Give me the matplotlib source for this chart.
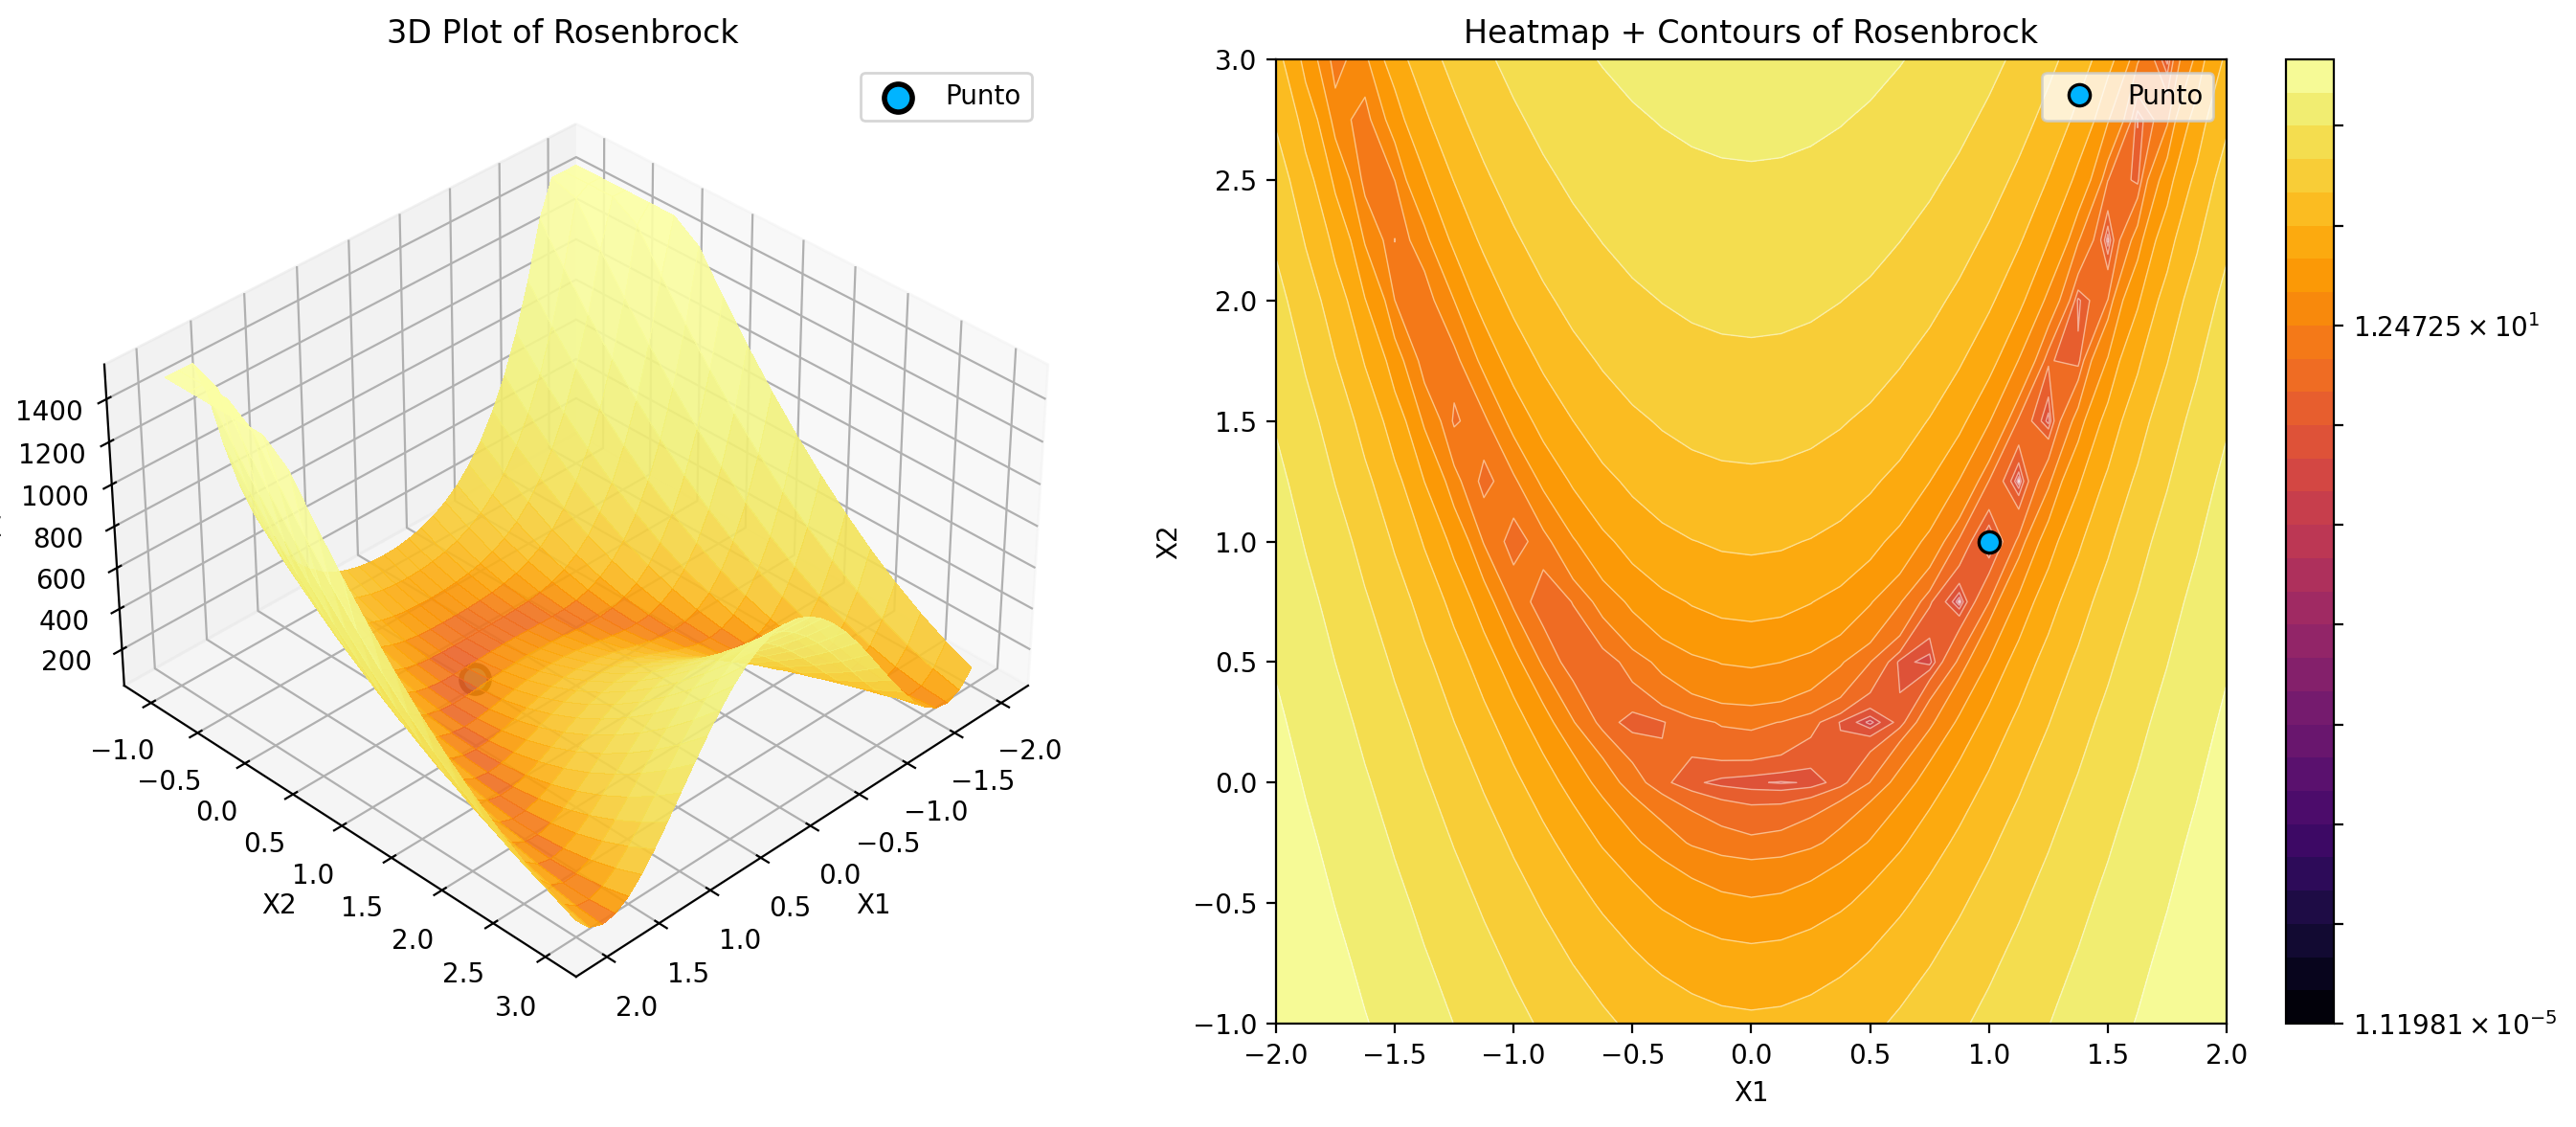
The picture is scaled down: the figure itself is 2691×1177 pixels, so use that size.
import numpy as np
import matplotlib
matplotlib.use('Agg')
import matplotlib.pyplot as plt
from matplotlib.colors import LogNorm
from mpl_toolkits.mplot3d import Axes3D  # noqa

# Axis samples
x1_values = [-2, -1.875, -1.75, -1.625, -1.5, -1.375, -1.25, -1.125, -1, -0.875, -0.75, -0.625, -0.5,
             -0.375, -0.25, -0.125, 0, 0.125, 0.25, 0.375, 0.5, 0.625, 0.75, 0.875, 1, 1.125, 1.25,
             1.375, 1.5, 1.625, 1.75, 1.875, 2]
x2_values = [-1, -0.75, -0.5, -0.25, 0, 0.25, 0.5, 0.75, 1, 1.25, 1.5, 1.75, 2, 2.25, 2.5, 2.75, 3]

# Surface heights, one row per x1 value, one column per x2 value
z_table = [
    [2509, 2265.25, 2034, 1815.25, 1609, 1415.25, 1234, 1065.25, 909, 765.25, 634, 515.25, 409, 315.25, 234, 165.25, 109],
    [2047.4, 1827.9, 1620.8, 1426.3, 1244.3, 1074.7, 917.7, 773.2, 641.1, 521.6, 414.6, 320.0, 238.0, 168.5, 111.4, 66.9, 34.9],
    [1658.0, 1461.1, 1276.7, 1104.9, 945.5, 798.6, 664.2, 542.4, 433.0, 336.1, 251.7, 179.9, 120.5, 73.6, 39.2, 17.4, 8.0],
    [1332.3, 1156.5, 993.2, 842.5, 704.2, 578.4, 465.1, 364.3, 276.1, 200.3, 137.0, 86.2, 47.9, 22.2, 8.9, 8.1, 19.8],
    [1062.5, 906.25, 762.5, 631.25, 512.5, 406.25, 312.5, 231.25, 162.5, 106.25, 62.5, 31.25, 12.5, 6.25, 12.5, 31.25, 62.5],
    [841.2, 702.9, 577.1, 463.8, 363.0, 274.8, 199.0, 135.7, 84.9, 46.6, 20.9, 7.6, 6.8, 18.5, 42.7, 79.5, 128.7],
    [661.7, 539.9, 430.5, 333.6, 249.2, 177.4, 118.0, 71.1, 36.7, 14.9, 5.5, 8.6, 24.2, 52.4, 93.0, 146.1, 211.7],
    [517.8, 410.8, 316.2, 234.2, 164.7, 107.6, 63.1, 31.1, 11.6, 4.5, 10.0, 28.0, 58.4, 101.4, 156.9, 224.8, 305.3],
    [404, 310.25, 229, 160.25, 104, 60.25, 29, 10.25, 4, 10.25, 29, 60.25, 104, 160.25, 229, 310.25, 404],
    [315.2, 233.2, 163.7, 106.6, 62.1, 30.1, 10.6, 3.5, 9.0, 27.0, 57.4, 100.4, 155.9, 223.8, 304.3, 397.3, 502.7],
    [247.2, 175.4, 116.0, 69.1, 34.7, 12.9, 3.5, 6.6, 22.2, 50.4, 91.0, 144.1, 209.7, 287.9, 378.5, 481.6, 597.2],
    [196.0, 132.7, 81.9, 43.6, 17.9, 4.6, 3.8, 15.5, 39.7, 76.5, 125.7, 187.4, 261.6, 348.3, 447.5, 559.3, 683.5],
    [158.5, 102.25, 58.5, 27.25, 8.5, 2.25, 8.5, 27.25, 58.5, 102.25, 158.5, 227.25, 308.5, 402.25, 508.5, 627.25, 758.5],
    [132.0, 81.2, 42.9, 17.2, 3.9, 3.1, 14.8, 39.0, 75.8, 125.0, 186.7, 260.9, 347.6, 446.8, 558.6, 682.8, 819.5],
    [114.5, 67.6, 33.2, 11.4, 2.0, 5.1, 20.7, 48.9, 89.5, 142.6, 208.2, 286.4, 377.0, 480.1, 595.7, 723.9, 864.5],
    [104.4, 59.9, 27.9, 8.4, 1.3, 6.8, 24.8, 55.2, 98.2, 153.7, 221.6, 302.1, 395.1, 500.5, 618.5, 749.0, 892.0],
    [101, 57.25, 26, 7.25, 1, 7.25, 26, 57.25, 101, 157.25, 226, 307.25, 401, 507.25, 626, 757.25, 901],
    [103.9, 59.4, 27.4, 7.9, 0.79, 6.3, 24.3, 54.7, 97.7, 153.2, 221.1, 301.6, 394.6, 500.0, 618.0, 748.5, 891.5],
    [113.5, 66.6, 32.2, 10.4, 0.96, 4.1, 19.7, 47.9, 88.5, 141.6, 207.2, 285.4, 376.0, 479.1, 594.7, 722.9, 863.5],
    [130.5, 79.7, 41.4, 15.7, 2.4, 1.6, 13.3, 37.5, 74.3, 123.5, 185.2, 259.4, 346.1, 445.3, 557.1, 681.3, 818.0],
    [156.5, 100.25, 56.5, 25.25, 6.5, 0.25, 6.5, 25.25, 56.5, 100.25, 156.5, 225.25, 306.5, 400.25, 506.5, 625.25, 756.5],
    [193.5, 130.2, 79.4, 41.1, 15.4, 2.1, 1.3, 13.0, 37.2, 74.0, 123.2, 184.9, 259.1, 345.8, 445.0, 556.8, 681.0],
    [244.2, 172.4, 113.0, 66.1, 31.7, 9.9, 0.46, 3.6, 19.2, 47.4, 88.0, 141.1, 206.7, 284.9, 375.5, 478.6, 594.2],
    [311.7, 229.7, 160.2, 103.1, 58.6, 26.6, 7.1, 0.04, 5.5, 23.5, 53.9, 96.9, 152.4, 220.3, 300.8, 393.8, 499.2],
    [400, 306.25, 225, 156.25, 100, 56.25, 25, 6.25, 1.11981e-5, 6.25, 25, 56.25, 100, 156.25, 225, 306.25, 400],
    [513.3, 406.3, 311.7, 229.7, 160.2, 103.1, 58.6, 26.6, 7.1, 0.04, 5.5, 23.5, 53.9, 96.9, 152.4, 220.3, 300.8],
    [656.7, 534.9, 425.5, 328.6, 244.2, 172.4, 113.0, 66.1, 31.7, 9.9, 0.46, 3.6, 19.2, 47.4, 88.0, 141.1, 206.7],
    [835.7, 697.4, 571.6, 458.3, 357.5, 269.3, 193.5, 130.2, 79.4, 41.1, 15.4, 2.1, 1.3, 13.0, 37.2, 74.0, 123.2],
    [1056.5, 900.25, 756.5, 625.25, 506.5, 400.25, 306.5, 225.25, 156.5, 100.25, 56.5, 25.25, 6.5, 0.25, 6.5, 25.25, 56.5],
    [1325.8, 1150.0, 986.7, 836.0, 697.7, 571.9, 458.6, 357.8, 269.6, 193.8, 130.5, 79.7, 41.4, 15.7, 2.4, 1.6, 13.3],
    [1651.0, 1454.1, 1269.7, 1097.9, 938.5, 791.6, 657.2, 535.4, 426.0, 329.1, 244.7, 172.9, 113.5, 66.6, 32.2, 10.4, 0.96],
    [2039.9, 1820.4, 1613.3, 1418.8, 1236.8, 1067.2, 910.2, 765.7, 633.6, 514.1, 407.1, 312.5, 230.5, 161.0, 103.9, 59.4, 27.4],
    [2501, 2257.25, 2026, 1807.25, 1601, 1407.25, 1226, 1057.25, 901, 757.25, 626, 507.25, 401, 307.25, 226, 157.25, 101],
]

# Marked point and colour scale ends
point_x1 = [1.0]
point_x2 = [1.0]
point_z = [350.0]
z_min = 1.11981e-5
z_max = 2509
z_clip = 1500
cbar_labels = {0: r'$\mathdefault{1.11981\times10^{-5}}$', 21: r'$\mathdefault{1.24725\times10^{1}}$'}

X2, X1 = np.meshgrid(x2_values, x1_values)
Z = np.array(z_table)
levels = np.logspace(np.log10(z_min), np.log10(z_max), 30)
norm = LogNorm(vmin=z_min, vmax=z_max)
point_color = '#00b4ff'

fig = plt.figure(figsize=(13.455, 5.885), dpi=200)

# 3D surface
ax3d = fig.add_axes([0.0298, 0.0917, 0.3776, 0.8556], projection='3d')
ax3d.plot_surface(X1, X2, np.minimum(Z, z_clip), cmap='inferno', norm=LogNorm(vmin=z_min, vmax=z_clip),
                  alpha=0.9, rstride=1, cstride=1, linewidth=0, antialiased=False)
ax3d.scatter(point_x1, point_x2, point_z, color=point_color, s=110, edgecolor='black',
             linewidth=2, label='Punto')
ax3d.set_zlim(20, 1560)
ax3d.set_zticks([200, 400, 600, 800, 1000, 1200, 1400])
ax3d.set_box_aspect((4, 4, 2.4), zoom=1.01)
ax3d.view_init(elev=35, azim=45)
ax3d.set_xlabel('X1')
ax3d.set_ylabel('X2')
ax3d.set_zlabel('Z')
ax3d.set_title('3D Plot of Rosenbrock')
ax3d.legend(loc='upper right')

# Heatmap with contours
ax = fig.add_axes([0.4953, 0.0917, 0.3691, 0.8556])
filled = ax.contourf(X1, X2, Z, levels=levels, cmap='inferno', norm=norm)
ax.contour(X1, X2, Z, levels=levels, colors='white', linewidths=0.5, alpha=0.5)
ax.plot(point_x1, point_x2, 'o', color=point_color, markersize=8, markeredgecolor='black',
        markeredgewidth=1.2, linestyle='none', label='Punto')
ax.set_xlabel('X1')
ax.set_ylabel('X2')
ax.set_title('Heatmap + Contours of Rosenbrock')
ax.legend(loc='upper right')

cax = fig.add_axes([0.8875, 0.0917, 0.0186, 0.8556])
cbar = fig.colorbar(filled, cax=cax)
tick_ids = list(range(0, 30, 3))
cbar.set_ticks([levels[i] for i in tick_ids])
cbar.set_ticklabels([cbar_labels.get(i, '') for i in tick_ids])
cbar.ax.minorticks_off()

fig.savefig('out.png', dpi=200)
